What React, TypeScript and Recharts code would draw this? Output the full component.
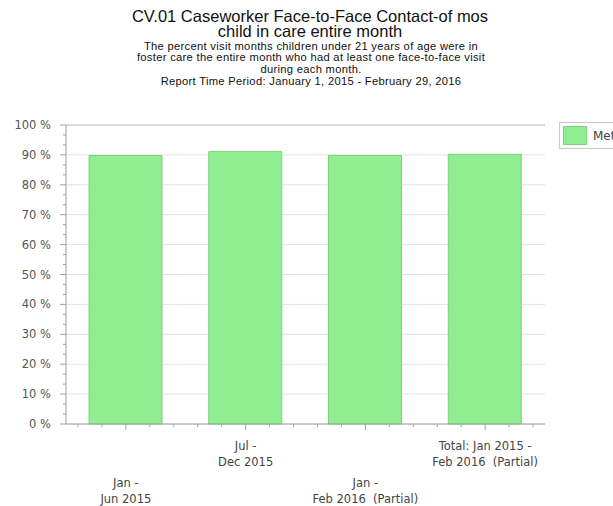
import { BarChart, Bar, XAxis, YAxis, CartesianGrid, ReferenceLine } from "recharts";

const categories = [
    ["Jan -", "Jun 2015"],
    ["Jul -", "Dec 2015"],
    ["Jan -", "Feb 2016  (Partial)"],
    ["Total: Jan 2015 -", "Feb 2016  (Partial)"],
];
const metPercent = [89.8, 91.1, 89.8, 90.2];
const yTicks = [0, 10, 20, 30, 40, 50, 60, 70, 80, 90, 100];
const seriesName = "Met";

const titleLines = ["CV.01 Caseworker Face-to-Face Contact-of mos", "child in care entire month"];
const subtitleLines = [
    "The percent visit months children under 21 years of age were in",
    "foster care the entire month who had at least one face-to-face visit",
    "during each month.",
    "Report Time Period: January 1, 2015 - February 29, 2016",
];

const W = 613;
const H = 506;
const AXIS_X = 66;
const AXIS_Y = 424;
const PLOT_W = 479;
const MINOR_STEP = PLOT_W / categories.length / 5;

// minor ticks, two between each pair of labelled ticks
const minorTicks = yTicks.slice(1).flatMap(t => [t - 20 / 3, t - 10 / 3]);
const allYTicks = [...yTicks, ...minorTicks].sort((a, b) => a - b);

const chartData = categories.map((c, i) => ({ name: c.join(" "), met: metPercent[i] }));

const labelFont = "'DejaVu Sans', Tahoma, sans-serif";
const titleFont = "'Liberation Sans', Arial, sans-serif";

function YTick({ y, payload }: any) {
    const major = yTicks.includes(payload.value);
    return (
        <g>
            <line x1={AXIS_X - (major ? 6 : 3)} x2={AXIS_X} y1={y} y2={y} stroke="#a0a0a0" />
            {major && (
                <text x={51} y={y} dy={4} textAnchor="end" fontSize={11.5} fontFamily={labelFont} fill="#555">
                    {payload.value} %
                </text>
            )}
        </g>
    );
}

function XTick({ x, payload }: any) {
    const lines = categories[payload.index];
    const low = payload.index % 2 === 0;
    const base = low ? 487 : 450;
    return (
        <g>
            <line x1={x} x2={x} y1={AXIS_Y} y2={AXIS_Y + 6} stroke="#a0a0a0" />
            {[-2, -1, 1, 2].map(k => (
                <line key={k} x1={x + k * MINOR_STEP} x2={x + k * MINOR_STEP} y1={AXIS_Y} y2={AXIS_Y + 3} stroke="#a0a0a0" />
            ))}
            {lines.map((l, i) => (
                <text key={i} x={x} y={base + i * 15.5} textAnchor="middle" fontSize={11.5} fontFamily={labelFont} fill="#444" style={{ whiteSpace: "pre" }}>
                    {l}
                </text>
            ))}
        </g>
    );
}

export default function App() {
    return (
        <div style={{ position: "absolute", left: 0, top: 0, width: W, height: H, overflow: "hidden", background: "#fff" }}>
            <svg width={W} height={100} style={{ position: "absolute", left: 0, top: 0 }}>
                {titleLines.map((t, i) => (
                    <text key={t} x={310} y={21.5 + i * 15.5} textAnchor="middle" fontSize={16.5} fontFamily={titleFont} fill="#111">
                        {t}
                    </text>
                ))}
                {subtitleLines.map((t, i) => (
                    <text key={t} x={311} y={[49.5, 60.5, 72.5, 84.5][i]} textAnchor="middle" fontSize={11.2} letterSpacing={0.3} fontFamily={titleFont} fill="#111">
                        {t}
                    </text>
                ))}
            </svg>
            <BarChart width={W} height={H} data={chartData} margin={{ top: 125, right: 68, bottom: 10, left: 10 }}>
                <CartesianGrid vertical={false} horizontalValues={yTicks} stroke="#e2e2e2" />
                <XAxis dataKey="name" interval={0} height={72} tickLine={false} axisLine={{ stroke: "#a0a0a0" }} tick={<XTick />} />
                <YAxis domain={[0, 100]} ticks={allYTicks} interval={0} width={56} tickLine={false} axisLine={{ stroke: "#a0a0a0" }} tick={<YTick />} />
                <YAxis yAxisId="border" orientation="right" domain={[0, 100]} width={0} tick={false} tickLine={false} axisLine={{ stroke: "#c8c8c8" }} />
                <ReferenceLine y={100} stroke="#c4c4c4" />
                <Bar dataKey="met" name={seriesName} fill="#90ee90" stroke="#7fd07f" barSize={73} isAnimationActive={false} />
            </BarChart>
            <div style={{ position: "absolute", left: 559, top: 122, width: 90, height: 25, border: "1px solid #c8c8c8", background: "#fff", display: "flex", alignItems: "center" }}>
                <span style={{ display: "inline-block", width: 22, height: 17, marginLeft: 3, background: "#90ee90", border: "1px solid #7fd07f" }} />
                <span style={{ marginLeft: 6, fontSize: 12, fontFamily: labelFont, color: "#444" }}>{seriesName}</span>
            </div>
        </div>
    );
}
